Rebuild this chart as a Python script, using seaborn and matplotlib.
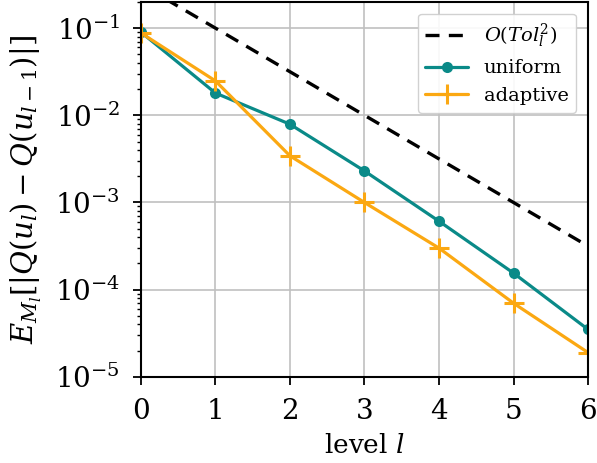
import matplotlib
matplotlib.use("Agg")
import matplotlib.pyplot as plt
import seaborn as sns
import pandas as pd

levels = [0, 1, 2, 3, 4, 5, 6]
ref_rate = [0.316, 0.1, 0.0316, 0.01, 0.00316, 0.001, 0.000316]
uniform = [0.09, 0.018, 0.0079, 0.0023, 0.00061, 0.000155, 0.000035]
adaptive = [0.088, 0.0248, 0.00343, 0.001, 0.0003, 0.00007, 0.000019]

sns.set_theme(style="ticks")
plt.rcParams['font.family'] = ['DejaVu Serif']
plt.rcParams['mathtext.fontset'] = 'dejavuserif'
for k in ['text.color', 'axes.labelcolor', 'xtick.color', 'ytick.color']:
    plt.rcParams[k] = 'black'

fig, ax = plt.subplots(figsize=(5.97, 4.63), dpi=100)
fig.subplots_adjust(left=0.236, right=0.985, top=0.996, bottom=0.186)

df = pd.DataFrame({"level": levels, "ref": ref_rate, "uniform": uniform, "adaptive": adaptive})

teal = "#0a8a88"
orange = "#fba812"
sns.lineplot(data=df, x="level", y="ref", ax=ax, color="black", linestyle="--",
             linewidth=2.4, label=r"$O(Tol_l^2)$")
ax.lines[-1].set_dashes((4.2, 2.8))
sns.lineplot(data=df, x="level", y="uniform", ax=ax, color=teal, linewidth=2.3,
             marker="o", markersize=8, markeredgewidth=0, markerfacecolor=teal,
             label="uniform")
sns.lineplot(data=df, x="level", y="adaptive", ax=ax, color=orange, linewidth=2.3,
             marker="+", markersize=14, markeredgewidth=2.2, markeredgecolor=orange,
             markerfacecolor=orange, label="adaptive")

ax.set_yscale("log")
ax.set_xlim(0, 6)
ax.set_ylim(1e-5, 0.2)
ax.set_xticks(levels)
ax.grid(True, which="major", color="#c0c0c0", linewidth=1.2)
ax.set_axisbelow(True)
for s in ax.spines.values():
    s.set_linewidth(1.5)
    s.set_color("black")
ax.tick_params(axis="both", which="major", labelsize=20, length=6, width=1.3,
               color="black", pad=9)
ax.tick_params(axis="both", which="minor", length=3, width=1.0, color="black")
ax.set_xlabel(r"level $l$", fontsize=19, labelpad=6)
ax.set_ylabel(r"$E_{M_l}[|Q(u_l)-Q(u_{l-1})|]$", fontsize=21, labelpad=8)

leg = ax.legend(loc="upper right", fontsize=14, frameon=True, fancybox=True,
                edgecolor="#cccccc", framealpha=0.9, handlelength=2.2,
                borderaxespad=0.6)

fig.savefig("out.png", dpi=100)
